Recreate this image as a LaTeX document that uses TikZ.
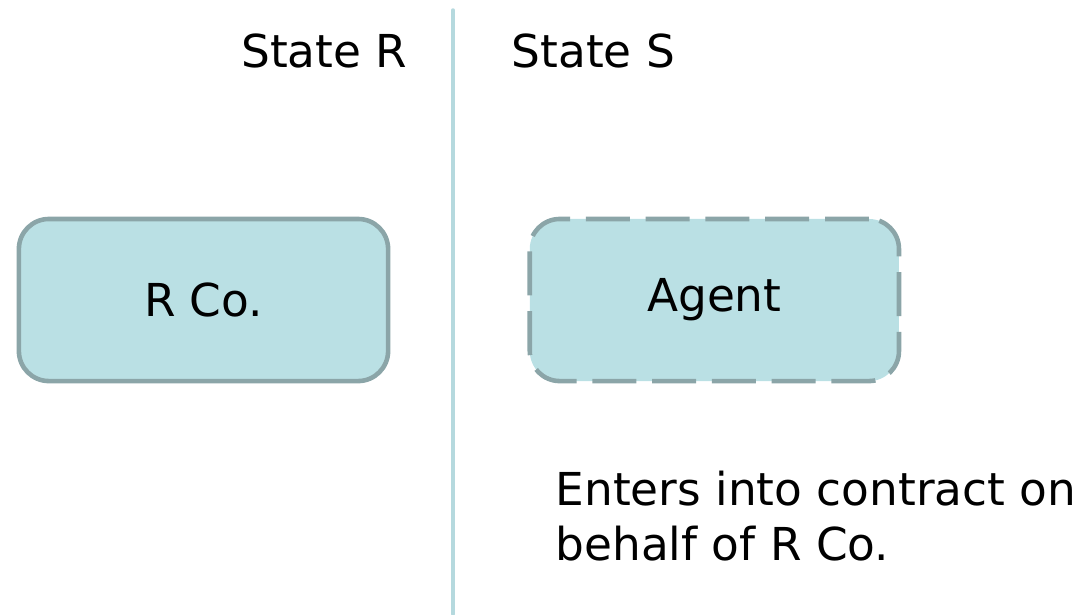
\documentclass[tikz,border=0pt]{standalone}
\usepackage{fontspec}
\setmainfont{DejaVu Sans}
\usetikzlibrary{positioning}
\definecolor{boxfill}{HTML}{BAE0E4}
\definecolor{boxline}{HTML}{8BA5A8}
\definecolor{divline}{HTML}{B5D9DE}
\begin{document}
\begin{tikzpicture}[x=0.01cm, y=-0.01cm, font=\fontsize{12.9}{15.6}\selectfont, line join=round, line cap=round,
	entity/.style={draw=boxline, fill=boxfill, line width=1.3pt, rounded corners=0.3cm, minimum width=3.69cm, minimum height=1.62cm}]
			\useasboundingbox (0,0) rectangle (1086,614);
			\def\xdiv{453} % Grenze
			\draw[divline, line width=1pt] (\xdiv,10)--(\xdiv,614);
			\node[anchor=base east, inner sep=0pt] (stR) at (408,67) {State R};
			\node[anchor=base west, inner sep=0pt] (stS) at (511,67) {State S};
			\node[entity] (rco) at (203.5,300) {R Co.};
			\node[entity, right=1.37cm of rco, line cap=butt, dash pattern=on 12.5pt off 4.5pt] (agent) {Agent};
			\node[anchor=north west, inner sep=0pt, align=left] (note) at (555,470) {Enters into contract on\\behalf of R Co.};
	\end{tikzpicture}
\end{document}
